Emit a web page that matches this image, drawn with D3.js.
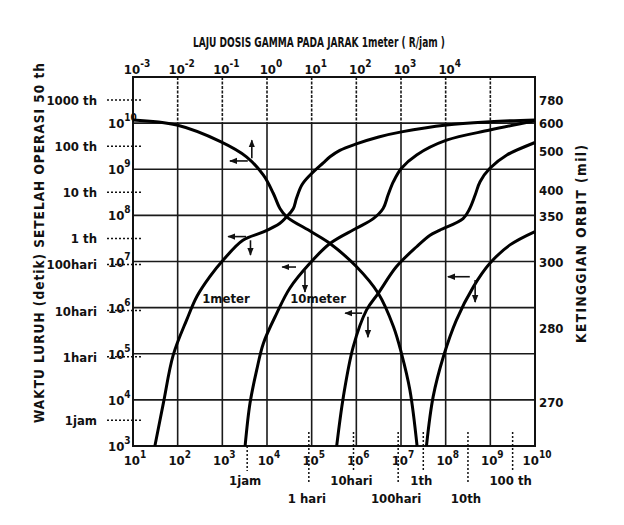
<!DOCTYPE html>
<html>
<head>
<meta charset="utf-8">
<script src="https://cdn.jsdelivr.net/npm/d3@7"></script>
<style>
  body { margin: 0; background: #fff; }
  svg text { font-family: "DejaVu Sans Condensed", "DejaVu Sans", sans-serif; font-weight: bold; fill: #111; }
</style>
</head>
<body>
<div id="chart"></div>
<script>
// exponents of the axes (log10)
var bottomExp = [1, 2, 3, 4, 5, 6, 7, 8, 9, 10];
var leftExp = [3, 4, 5, 6, 7, 8, 9, 10];
var topExp = [-3, -2, -1, 0, 1, 2, 3, 4];

// time marks (seconds)
var leftTimeLabels = ["1000 th", "100 th", "10 th", "1 th", "100hari", "10hari", "1hari", "1jam"];
var leftTimeValues = [3.156e10, 3.156e9, 3.156e8, 3.156e7, 8.64e6, 8.64e5, 8.64e4, 3600];
var bottomTimeLabels = ["1jam", "1 hari", "10hari", "100hari", "1th", "10th", "100 th"];
var bottomTimeValues = [3600, 86400, 864000, 8640000, 3.156e7, 3.156e8, 3.156e9];
var bottomTimeRow = [0, 1, 0, 1, 0, 1, 0];

// orbit altitude labels (mil) and their place on the left log axis
var orbitLabels = ["780", "600", "500", "400", "350", "300", "280", "270"];
var orbitPos = [10.5, 10.0, 9.4, 8.55, 7.98, 7.0, 5.55, 3.95];

// curves, x and y as log10 values
var curveA_x = [1.0, 1.98, 2.96, 3.54, 3.92, 4.14, 4.29, 4.44, 5.0, 5.41, 6.0, 6.49, 6.83, 7.01, 7.20, 7.36];
var curveA_y = [10.07, 9.96, 9.60, 9.27, 8.87, 8.48, 8.15, 7.97, 7.64, 7.39, 6.89, 6.31, 5.59, 5.01, 4.21, 3.0];
var curveB_x = [1.49, 1.68, 1.90, 2.20, 2.43, 2.72, 3.02, 3.46, 3.92, 4.29, 4.44, 4.59, 4.66, 4.78, 4.96, 5.26, 5.41, 5.63, 6.0, 6.5, 7.01, 8.02, 8.99, 10.0];
var curveB_y = [3.0, 3.93, 4.97, 5.73, 6.24, 6.67, 7.03, 7.46, 7.64, 7.83, 7.97, 8.15, 8.37, 8.66, 8.87, 9.14, 9.27, 9.41, 9.55, 9.70, 9.81, 9.96, 10.03, 10.07];
var curveC_x = [3.51, 3.62, 3.77, 3.92, 4.22, 4.51, 4.96, 5.41, 6.0, 6.38, 6.60, 6.71, 6.83, 7.01, 7.35, 8.02, 8.99, 10.0];
var curveC_y = [3.0, 3.93, 4.65, 5.23, 5.88, 6.42, 6.96, 7.39, 7.72, 7.93, 8.15, 8.44, 8.73, 9.02, 9.31, 9.63, 9.85, 10.05];
var curveD_x = [5.56, 5.71, 5.93, 6.23, 6.49, 6.90, 7.35, 7.65, 7.87, 8.39, 8.54, 8.66, 8.77, 8.99, 9.37, 10.0];
var curveD_y = [3.0, 4.07, 5.15, 5.95, 6.31, 6.89, 7.32, 7.57, 7.68, 7.93, 8.15, 8.44, 8.73, 9.02, 9.31, 9.58];
var curveE_x = [7.57, 7.72, 7.95, 8.24, 8.62, 8.99, 9.44, 10.0];
var curveE_y = [3.0, 4.07, 4.94, 5.73, 6.45, 6.96, 7.36, 7.65];

var curveLabels = ["1meter", "10meter"];
var curveLabelX = [2.55, 4.52];
var curveLabelY = [6.10, 6.10];

// reading arrows: horizontal (hx1 -> hx2 at hy), vertical (vx, vy1 -> vy2)
var arrowHx1 = [3.17, 3.13, 4.34, 5.75, 8.05];
var arrowHx2 = [3.57, 3.53, 4.65, 6.13, 8.54];
var arrowHy = [9.18, 7.54, 6.88, 5.88, 6.67];
var arrowVx = [3.66, 3.63, 4.85, 6.26, 8.66];
var arrowVy1 = [9.24, 7.46, 6.81, 5.80, 6.60];
var arrowVy2 = [9.63, 7.14, 6.34, 5.36, 6.12];

///////////////////////////////////////////////////////////////////////////
////////////////////////////// Set up svg ////////////////////////////////
///////////////////////////////////////////////////////////////////////////

var width = 624, height = 525;

var svg = d3.select("#chart").append("svg")
	.attr("width", width)
	.attr("height", height);

var x = d3.scaleLog().domain([1e1, 1e10]).range([133, 535]);
var y = d3.scaleLog().domain([1e3, 1e11]).range([446, 77]);
var px = function(e) { return x(Math.pow(10, e)); };
var py = function(e) { return y(Math.pow(10, e)); };

var defs = svg.append("defs");
defs.append("marker")
	.attr("id", "head")
	.attr("viewBox", "0 0 10 10")
	.attr("refX", 9).attr("refY", 5)
	.attr("markerWidth", 5).attr("markerHeight", 5)
	.attr("orient", "auto")
	.append("path")
	.attr("d", "M0,1 L10,5 L0,9 Z")
	.style("fill", "#111");

///////////////////////////////////////////////////////////////////////////
/////////////////////////////// Grid & frame //////////////////////////////
///////////////////////////////////////////////////////////////////////////

var grid = svg.append("g").attr("class", "grid");

//vertical lines, dotted above the 10^10 line
grid.selectAll(".vline")
	.data(bottomExp.slice(1, -1))
	.enter().append("line")
	.attr("x1", px).attr("x2", px)
	.attr("y1", py(10)).attr("y2", y.range()[0])
	.style("stroke", "#1a1a1a")
	.style("stroke-width", 1.6);
grid.selectAll(".vlineTop")
	.data(bottomExp.slice(1, -1))
	.enter().append("line")
	.attr("x1", px).attr("x2", px)
	.attr("y1", y.range()[1]).attr("y2", py(10))
	.style("stroke", "#1a1a1a")
	.style("stroke-width", 1.6)
	.style("stroke-dasharray", "3,1.5");

grid.selectAll(".hline")
	.data(leftExp.slice(1))
	.enter().append("line")
	.attr("x1", x.range()[0]).attr("x2", x.range()[1])
	.attr("y1", py).attr("y2", py)
	.style("stroke", "#1a1a1a")
	.style("stroke-width", 1.6);

svg.append("rect")
	.attr("x", x.range()[0])
	.attr("y", y.range()[1])
	.attr("width", x.range()[1] - x.range()[0])
	.attr("height", y.range()[0] - y.range()[1])
	.style("fill", "none")
	.style("stroke", "#111")
	.style("stroke-width", 2);

///////////////////////////////////////////////////////////////////////////
/////////////////////////////// Tick labels ///////////////////////////////
///////////////////////////////////////////////////////////////////////////

function powLabel(sel, e) {
	sel.append("tspan").text("10");
	sel.append("tspan")
		.attr("dy", -7)
		.style("font-size", "10px")
		.text(e);
}

//Bottom exponents
svg.selectAll(".bLabel")
	.data(bottomExp)
	.enter().append("text")
	.attr("x", function(d) { return px(d) + 2; })
	.attr("y", 465)
	.style("font-size", "13px")
	.style("text-anchor", "middle")
	.each(function(d) { powLabel(d3.select(this), d); });

//Top exponents (dose rate)
svg.selectAll(".tLabel")
	.data(topExp)
	.enter().append("text")
	.attr("x", function(d, i) { return px(bottomExp[i]) + 4; })
	.attr("y", 74)
	.style("font-size", "13px")
	.style("text-anchor", "middle")
	.each(function(d) { powLabel(d3.select(this), d); });

//Left exponents
svg.selectAll(".lLabel")
	.data(leftExp)
	.enter().append("text")
	.attr("x", 108)
	.attr("y", function(d) { return py(d) + 5; })
	.style("font-size", "13px")
	.each(function(d) { powLabel(d3.select(this), d); });

//Left time marks
svg.selectAll(".lTime")
	.data(leftTimeValues)
	.enter().append("line")
	.attr("x1", 107).attr("x2", 143)
	.attr("y1", y).attr("y2", y)
	.style("stroke", "#111")
	.style("stroke-width", 1.5)
	.style("stroke-dasharray", "2,2");
svg.selectAll(".lTimeText")
	.data(leftTimeValues)
	.enter().append("text")
	.attr("x", 97)
	.attr("y", function(d) { return y(d) + 5; })
	.style("font-size", "13px")
	.style("text-anchor", "end")
	.text(function(d, i) { return leftTimeLabels[i]; });

//Bottom time marks
svg.selectAll(".bTime")
	.data(bottomTimeValues)
	.enter().append("line")
	.attr("x1", x).attr("x2", x)
	.attr("y1", function(d, i) { return i === 0 ? 446 : 432; })
	.attr("y2", function(d, i) { return bottomTimeRow[i] ? 483 : 471; })
	.style("stroke", "#111")
	.style("stroke-width", 1.5)
	.style("stroke-dasharray", "2,2");
svg.selectAll(".bTimeText")
	.data(bottomTimeValues)
	.enter().append("text")
	.attr("x", function(d) { return x(d) - 2; })
	.attr("y", function(d, i) { return bottomTimeRow[i] ? 503 : 485; })
	.style("font-size", "13px")
	.style("text-anchor", "middle")
	.text(function(d, i) { return bottomTimeLabels[i]; });

//Right orbit altitude
svg.selectAll(".rLabel")
	.data(orbitPos)
	.enter().append("text")
	.attr("x", 539)
	.attr("y", function(d) { return py(d) + 5; })
	.style("font-size", "13px")
	.text(function(d, i) { return orbitLabels[i]; });

///////////////////////////////////////////////////////////////////////////
///////////////////////////////// Titles //////////////////////////////////
///////////////////////////////////////////////////////////////////////////

svg.append("text")
	.attr("x", 193)
	.attr("y", 47)
	.attr("textLength", 252)
	.attr("lengthAdjust", "spacingAndGlyphs")
	.style("font-size", "14px")
	.text("LAJU  DOSIS  GAMMA  PADA  JARAK  1meter ( R/jam )");

svg.append("text")
	.attr("transform", "translate(44,243) rotate(-90)")
	.attr("x", -180)
	.attr("textLength", 360)
	.attr("lengthAdjust", "spacing")
	.style("font-size", "13.5px")
	.text("WAKTU  LURUH (detik) SETELAH OPERASI 50 th");

svg.append("text")
	.attr("transform", "translate(586,244) rotate(-90)")
	.attr("x", -99)
	.attr("textLength", 198)
	.attr("lengthAdjust", "spacing")
	.style("font-size", "13.5px")
	.text("KETINGGIAN  ORBIT  (mil)");

///////////////////////////////////////////////////////////////////////////
///////////////////////////////// Curves //////////////////////////////////
///////////////////////////////////////////////////////////////////////////

var line = d3.line()
	.x(function(d) { return px(d[0]); })
	.y(function(d) { return py(d[1]); })
	.curve(d3.curveCatmullRom.alpha(0.5));

var curves = [
	d3.zip(curveA_x, curveA_y),
	d3.zip(curveB_x, curveB_y),
	d3.zip(curveC_x, curveC_y),
	d3.zip(curveD_x, curveD_y),
	d3.zip(curveE_x, curveE_y)
];

svg.append("g").selectAll("path")
	.data(curves)
	.enter().append("path")
	.attr("d", line)
	.style("fill", "none")
	.style("stroke", "#000")
	.style("stroke-width", 3);

svg.selectAll(".cLabel")
	.data(curveLabels)
	.enter().append("text")
	.attr("x", function(d, i) { return px(curveLabelX[i]); })
	.attr("y", function(d, i) { return py(curveLabelY[i]); })
	.style("font-size", "13px")
	.text(function(d) { return d; });

//Reading arrows
var arrows = svg.append("g").attr("class", "arrows");
arrowHx1.forEach(function(d, i) {
	arrows.append("line")
		.attr("x1", px(arrowHx2[i])).attr("x2", px(arrowHx1[i]))
		.attr("y1", py(arrowHy[i])).attr("y2", py(arrowHy[i]))
		.attr("marker-end", "url(#head)")
		.style("stroke", "#111").style("stroke-width", 1.6);
	arrows.append("line")
		.attr("x1", px(arrowVx[i])).attr("x2", px(arrowVx[i]))
		.attr("y1", py(arrowVy1[i])).attr("y2", py(arrowVy2[i]))
		.attr("marker-end", "url(#head)")
		.style("stroke", "#111").style("stroke-width", 1.6);
});
</script>
</body>
</html>
